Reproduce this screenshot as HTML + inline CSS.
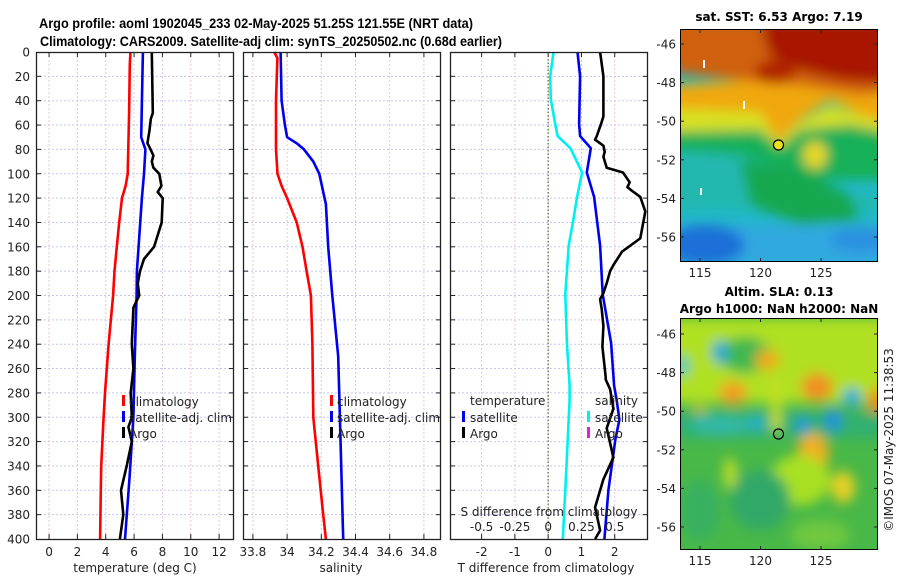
<!DOCTYPE html>
<html><head><meta charset="utf-8">
<style>
html,body{margin:0;padding:0;background:#fff;}
svg{display:block;font-family:"DejaVu Sans","Liberation Sans",sans-serif;}
.ttl{font-family:"Liberation Sans","DejaVu Sans",sans-serif;}
</style></head>
<body>
<svg id="fig" width="900" height="580" viewBox="0 0 900 580" xmlns="http://www.w3.org/2000/svg">
<defs>
<filter id="blur6" x="-20%" y="-20%" width="140%" height="140%"><feGaussianBlur stdDeviation="6"/></filter>
<clipPath id="clipTop"><rect x="680" y="29" width="198" height="233"/></clipPath>
<clipPath id="clipBot"><rect x="680" y="318" width="198" height="232"/></clipPath>
</defs>
<text class="ttl" x="39" y="28" font-size="13.5" font-weight="bold" textLength="434" lengthAdjust="spacingAndGlyphs">Argo profile: aoml 1902045_233 02-May-2025 51.25S 121.55E (NRT data)</text>
<text class="ttl" x="40" y="46" font-size="13.5" font-weight="bold" textLength="462" lengthAdjust="spacingAndGlyphs">Climatology: CARS2009. Satellite-adj clim: synTS_20250502.nc (0.68d earlier)</text>
<g id="panels"></g>

<!-- SST map -->
<g>
<text x="779" y="21" font-size="12" font-weight="bold" text-anchor="middle">sat. SST: 6.53 Argo: 7.19</text>
<g clip-path="url(#clipTop)">
<rect x="680" y="29" width="198" height="233" fill="#20b8c8"/>
<g filter="url(#blur6)">
<rect x="670" y="120" width="220" height="60" fill="#18b058"/>
<path d="M670 150 L740 155 L790 170 L840 190 L900 200 L900 210 L670 210 Z" fill="#20b8b0"/>
<path d="M740 160 L800 170 L850 195 L860 220 L800 225 L750 205 Z" fill="#18a850"/>
<rect x="670" y="225" width="220" height="40" fill="#30a8e0"/>
<ellipse cx="705" cy="245" rx="40" ry="20" fill="#1a70d8"/>
<ellipse cx="860" cy="240" rx="30" ry="12" fill="#2a90e0"/>
<path d="M670 85 L900 70 L900 130 L860 115 L830 100 L800 120 L780 140 L760 125 L670 128 Z" fill="#f0a810"/>
<path d="M670 108 L760 112 L778 142 L800 122 L830 105 L870 118 L900 125 L900 135 L850 125 L800 130 L780 148 L760 130 L670 132 Z" fill="#d8e020"/>
<ellipse cx="815" cy="155" rx="12" ry="14" fill="#e8d820"/>
<path d="M670 20 L900 20 L900 90 L860 95 L800 85 L760 82 L720 78 L670 72 Z" fill="#d06010"/>
<path d="M760 20 L900 20 L900 85 L840 80 L800 70 L770 55 Z" fill="#a81800"/>
<ellipse cx="775" cy="72" rx="20" ry="12" fill="#b02000"/>
</g>
<rect x="703" y="60" width="2" height="8" fill="#fff"/>
<rect x="743" y="101" width="2" height="8" fill="#fff"/>
<rect x="700" y="188" width="2" height="7" fill="#fff"/>
</g>
<rect x="680.5" y="29.5" width="197" height="232" fill="none" stroke="#000" stroke-width="1"/>
<circle cx="778.5" cy="145" r="5" fill="#e8e020" stroke="#000" stroke-width="1.2"/>
</g>

<!-- SLA map -->
<g>
<text x="779" y="296" font-size="12" font-weight="bold" text-anchor="middle">Altim. SLA: 0.13</text>
<text x="779" y="313" font-size="12" font-weight="bold" text-anchor="middle">Argo h1000: NaN h2000: NaN</text>
<g clip-path="url(#clipBot)">
<rect x="680" y="318" width="198" height="232" fill="#48b848"/>
<g filter="url(#blur6)">
<rect x="670" y="318" width="220" height="85" fill="#b0e020"/>
<ellipse cx="745" cy="355" rx="25" ry="18" fill="#40b850"/>
<ellipse cx="720" cy="352" rx="8" ry="12" fill="#20a8d8"/>
<ellipse cx="683" cy="366" rx="6" ry="10" fill="#30c0d0"/>
<ellipse cx="767" cy="360" rx="12" ry="10" fill="#f0a818"/>
<ellipse cx="733" cy="393" rx="14" ry="12" fill="#f0a020"/>
<ellipse cx="817" cy="387" rx="16" ry="14" fill="#f09020"/>
<ellipse cx="876" cy="403" rx="8" ry="16" fill="#f08810"/>
<ellipse cx="700" cy="420" rx="10" ry="14" fill="#f0c020"/>
<rect x="670" y="412" width="220" height="26" fill="#30b070"/>
<ellipse cx="720" cy="425" rx="30" ry="10" fill="#30b8a8"/>
<ellipse cx="757" cy="423" rx="8" ry="8" fill="#20b0d0"/>
<ellipse cx="803" cy="425" rx="7" ry="9" fill="#2098e0"/>
<ellipse cx="833" cy="420" rx="8" ry="12" fill="#2090e0"/>
<ellipse cx="852" cy="397" rx="9" ry="9" fill="#20a8e0"/>
<rect x="771" y="380" width="10" height="50" fill="#c8e020"/>
<ellipse cx="813" cy="455" rx="16" ry="22" fill="#f0b020"/>
<ellipse cx="843" cy="487" rx="12" ry="16" fill="#e8d020"/>
<ellipse cx="730" cy="473" rx="6" ry="16" fill="#c8e020"/>
<ellipse cx="800" cy="480" rx="30" ry="25" fill="#a8e020"/>
<ellipse cx="760" cy="500" rx="30" ry="30" fill="#30a868"/>
<ellipse cx="700" cy="510" rx="20" ry="30" fill="#38b060"/>
<ellipse cx="820" cy="535" rx="30" ry="15" fill="#70c840"/>
</g>
</g>
<rect x="680.5" y="318.5" width="197" height="231" fill="none" stroke="#000" stroke-width="1"/>
<circle cx="778.5" cy="434" r="5" fill="none" stroke="#000" stroke-width="1.2"/>
</g>
<text x="0" y="0" transform="translate(893,440) rotate(-90)" font-size="12" text-anchor="middle" fill="#222">©IMOS 07-May-2025 11:38:53</text>
<g id="maptick"></g>
</svg>
<script>
// ---- data ----
const depthTicks = [0,20,40,60,80,100,120,140,160,180,200,220,240,260,280,300,320,340,360,380,400];
const tempTicks = [0,2,4,6,8,10,12];
const salTicks = [33.8,34,34.2,34.4,34.6,34.8];
const salTickLabels = ["33.8","34","34.2","34.4","34.6","34.8"];
const tdiffTicks = [-2,-1,0,1,2];
const sdiffTicks = [-0.5,-0.25,0,0.25,0.5];
const sdiffTickLabels = ["-0.5","-0.25","0","0.25","0.5"];

const climTDepth = [0,10,50,100,110,120,140,160,180,200,240,280,300,340,360,400];
const climT = [5.75,5.7,5.65,5.55,5.4,5.15,4.95,4.78,4.62,4.52,4.2,3.95,3.85,3.68,3.65,3.6];
const satTDepth = [0,70,80,100,120,180,200,250,300,350,400];
const satT = [6.62,6.5,6.8,6.7,6.55,6.2,6.18,6.05,5.95,5.68,5.36];
const argoTDepth = [0,50,55,65,75,78,85,90,95,100,110,115,120,140,160,170,180,190,200,210,240,260,280,300,308,320,340,360,380,400];
const argoT = [7.25,7.32,7.18,7.08,6.94,7.08,7.36,7.25,7.36,7.78,7.93,7.67,8.02,7.95,7.41,6.7,6.42,6.26,6.36,5.95,5.84,5.95,5.76,5.84,5.6,5.84,5.48,5.08,5.24,5.0];

const climSDepth = [0,5,40,80,100,110,120,140,160,180,200,240,300,340,380,400];
const climS = [33.925,33.943,33.935,33.935,33.944,33.968,34.0,34.056,34.09,34.114,34.139,34.148,34.153,34.182,34.211,34.227];
const satSDepth = [0,40,60,70,75,80,90,100,125,160,200,250,300,400];
const satS = [33.962,33.968,33.987,34.0,34.056,34.099,34.153,34.188,34.227,34.24,34.264,34.299,34.309,34.328];

const satTdiffDepth = [0,20,59,69,79,99,119,159,199,239,274,286,302,318,360,400];
const satTdiff = [0.88,0.96,0.93,0.96,1.28,1.16,1.38,1.56,1.64,1.89,1.98,2.06,2.14,2.02,1.81,1.69];
const satSdiffDepth = [0,20,39,59,69,79,99,119,139,159,199,239,274,286,360,400];
const satSdiff = [0.04,0.015,0.02,0.053,0.07,0.167,0.255,0.217,0.187,0.154,0.129,0.141,0.161,0.161,0.129,0.11];
const argoTdiffDepth = [0,20,53,59,69,72,77,82,86,95,99,107,111,114,119,131,153,164,175,180,190,198,203,211,225,242,267,269,277,293,309,333,351,374,393,400];
const argoTdiff = [1.56,1.66,1.66,1.59,1.46,1.41,1.66,1.7,1.66,1.76,2.25,2.45,2.38,2.52,2.77,2.92,2.77,2.22,1.96,1.86,1.76,1.66,1.56,1.61,1.66,1.63,1.73,1.73,1.86,1.96,1.76,1.96,1.66,1.41,1.56,1.41];

// ---- layout ----
const NS = "http://www.w3.org/2000/svg";
const Y0 = 52, Y1 = 539;
const FS = 12;
function yScale(d){ return Y0 + d*(Y1-Y0)/400; }
function mk(tag, attrs, parent){ const e=document.createElementNS(NS,tag); for(const k in attrs) e.setAttribute(k,attrs[k]); parent.appendChild(e); return e; }
const root = document.getElementById('panels');

function makePanel(x0,x1,domain,name){
  const g = mk('g',{},root);
  
  
  const xs = v => x0 + (v-domain[0])*(x1-x0)/(domain[1]-domain[0]);
  return {g,xs,x0,x1};
}
function grid(p, xticks){
  const gg = mk('g',{},p.g);
  
  
  depthTicks.forEach(d=>{ if(d===0||d===400) return;
    mk('line',{x1:p.x0,x2:p.x1,y1:yScale(d),y2:yScale(d),stroke:'#c4c8ec','stroke-width':1,'stroke-dasharray':'2,2'},gg);
    mk('line',{x1:p.x0,x2:p.x0+5,y1:yScale(d),y2:yScale(d),stroke:'#222','stroke-width':1},gg);
    mk('line',{x1:p.x1-5,x2:p.x1,y1:yScale(d),y2:yScale(d),stroke:'#222','stroke-width':1},gg);
  });
  xticks.forEach(v=>{ const x=p.xs(v);
    mk('line',{x1:x,x2:x,y1:Y0,y2:Y1,stroke:'#e4c8d8','stroke-width':1,'stroke-dasharray':'2,2'},gg);
    mk('line',{x1:x,x2:x,y1:Y1-5,y2:Y1,stroke:'#222','stroke-width':1},gg);
    mk('line',{x1:x,x2:x,y1:Y0,y2:Y0+5,stroke:'#222','stroke-width':1},gg);
  });
}
function frame(p){
  const r = mk('rect',{x:p.x0+0.5,y:Y0+0.5,width:p.x1-p.x0-1,height:Y1-Y0,fill:'none',stroke:'#222','stroke-width':1.3},p.g);
  
  
}
function line(p, depths, vals, color, name, xs){
  xs = xs || p.xs;
  const d = depths.map((z,i)=>(i?'L':'M')+xs(vals[i]).toFixed(1)+' '+yScale(z).toFixed(1)).join(' ');
  const e = mk('path',{d:d,fill:'none',stroke:color,'stroke-width':2.6,'stroke-linejoin':'round'},p.g);
  
  
}
function xLabels(p, ticks, labels, y, name){
  ticks.forEach((v,i)=>{
    const t = mk('text',{x:p.xs(v),y:y,'font-size':FS,'text-anchor':'middle',fill:'#222'},p.g);
    t.textContent = labels ? labels[i] : String(v);
    
    
  });
}
function txt(p,x,y,s,name,anchor){
  const t = mk('text',{x:x,y:y,'font-size':FS,'text-anchor':anchor||'start',fill:'#222'},p.g);
  t.textContent = s;
  
  
  return t;
}
function legMark(p,x,y,color,name){
  const r = mk('rect',{x:x,y:y-10,width:3,height:11,fill:color},p.g);
  
  
}

// Panel 1: temperature
const p1 = makePanel(36,234,[-0.92,13.05],'temperature-panel');
grid(p1,tempTicks);
line(p1,climTDepth,climT,'#ff0000','temperature-climatology-line');
line(p1,satTDepth,satT,'#0000ee','temperature-satellite-line');
line(p1,argoTDepth,argoT,'#000000','temperature-argo-line');
frame(p1);
depthTicks.forEach(d=>{ txt(p1,30,yScale(d)+4.5,String(d),'y-tick-label','end'); });
xLabels(p1,tempTicks,null,556,'x-tick-label-temperature');
txt(p1,135,572,'temperature (deg C)','x-axis-title-temperature','middle');
legMark(p1,122,405,'#ff0000','legend-marker-climatology'); txt(p1,129,406,'climatology','legend-entry-climatology');
legMark(p1,122,421,'#0000ee','legend-marker-satellite'); txt(p1,129,422,'satellite-adj. clim','legend-entry-satellite');
legMark(p1,122,437,'#000','legend-marker-argo'); txt(p1,129,438,'Argo','legend-entry-argo');

// Panel 2: salinity
const p2 = makePanel(243,441,[33.742,34.900],'salinity-panel');
grid(p2,salTicks);
line(p2,climSDepth,climS,'#ff0000','salinity-climatology-line');
line(p2,satSDepth,satS,'#0000ee','salinity-satellite-line');
frame(p2);
xLabels(p2,salTicks,salTickLabels,556,'x-tick-label-salinity');
txt(p2,341,572,'salinity','x-axis-title-salinity','middle');
legMark(p2,330,405,'#ff0000','legend-marker-climatology'); txt(p2,337,406,'climatology','legend-entry-climatology');
legMark(p2,330,421,'#0000ee','legend-marker-satellite'); txt(p2,337,422,'satellite-adj. clim','legend-entry-satellite');
legMark(p2,330,437,'#000','legend-marker-argo'); txt(p2,337,438,'Argo','legend-entry-argo');

// Panel 3: differences
const p3 = makePanel(450,648,[-2.95,3.0],'difference-panel');
const sxs = v => p3.xs(0) + v*4*(p3.xs(1)-p3.xs(0));
grid(p3,tdiffTicks);
const zl = mk('line',{x1:p3.xs(0),x2:p3.xs(0),y1:Y0,y2:Y1,stroke:'#556b2f','stroke-width':1.2,'stroke-dasharray':'1.5,2'},p3.g);


line(p3,satSdiffDepth,satSdiff,'#00f0f0','salinity-diff-satellite-line',sxs);
line(p3,satTdiffDepth,satTdiff,'#0000ee','temperature-diff-satellite-line');
line(p3,argoTdiffDepth,argoTdiff,'#000000','temperature-diff-argo-line');
frame(p3);
xLabels(p3,tdiffTicks,null,556,'x-tick-label-tdiff');
txt(p3,546,572,'T difference from climatology','x-axis-title-tdiff','middle');
txt(p3,549,516,'S difference from climatology','s-diff-axis-title','middle');
sdiffTicks.forEach((v,i)=>{ txt(p3,sxs(v),531,sdiffTickLabels[i],'s-diff-tick-label','middle'); });
txt(p3,470,405,'temperature','legend-title-temperature');
legMark(p3,462,421,'#0000ee','legend-marker-tdiff-satellite'); txt(p3,470,422,'satellite','legend-entry-tdiff-satellite');
legMark(p3,462,437,'#000','legend-marker-tdiff-argo'); txt(p3,470,438,'Argo','legend-entry-tdiff-argo');
txt(p3,595,405,'salinity','legend-title-salinity');
legMark(p3,587,421,'#00f0f0','legend-marker-sdiff-satellite'); txt(p3,595,422,'satellite','legend-entry-sdiff-satellite');
legMark(p3,587,437,'#e020e0','legend-marker-sdiff-argo'); txt(p3,595,438,'Argo','legend-entry-sdiff-argo');

// Map ticks
const mt = document.getElementById('maptick');
const lonTicks = [115,120,125];
const latTicks = [-46,-48,-50,-52,-54,-56];
const lonX = lon => 700 + (lon-115)*12.1;
[[29,262,44],[318,550,334]].forEach((m,mi)=>{
  lonTicks.forEach(lon=>{
    const x=lonX(lon);
    mk('line',{x1:x,x2:x,y1:m[1]-4,y2:m[1],stroke:'#222'},mt);
    mk('line',{x1:x,x2:x,y1:m[0],y2:m[0]+4,stroke:'#222'},mt);
    const t=mk('text',{x:x,y:m[1]+15,'font-size':FS,'text-anchor':'middle',fill:'#222'},mt);
    t.textContent=String(lon);
    
    
  });
  latTicks.forEach(lat=>{
    const y=m[2] + (-46-lat)*19.3;
    mk('line',{x1:680,x2:684,y1:y,y2:y,stroke:'#222'},mt);
    mk('line',{x1:874,x2:878,y1:y,y2:y,stroke:'#222'},mt);
    const t=mk('text',{x:676,y:y+4.5,'font-size':FS,'text-anchor':'end',fill:'#222'},mt);
    t.textContent=String(lat);
    
    
  });
});
</script>
</body></html>
